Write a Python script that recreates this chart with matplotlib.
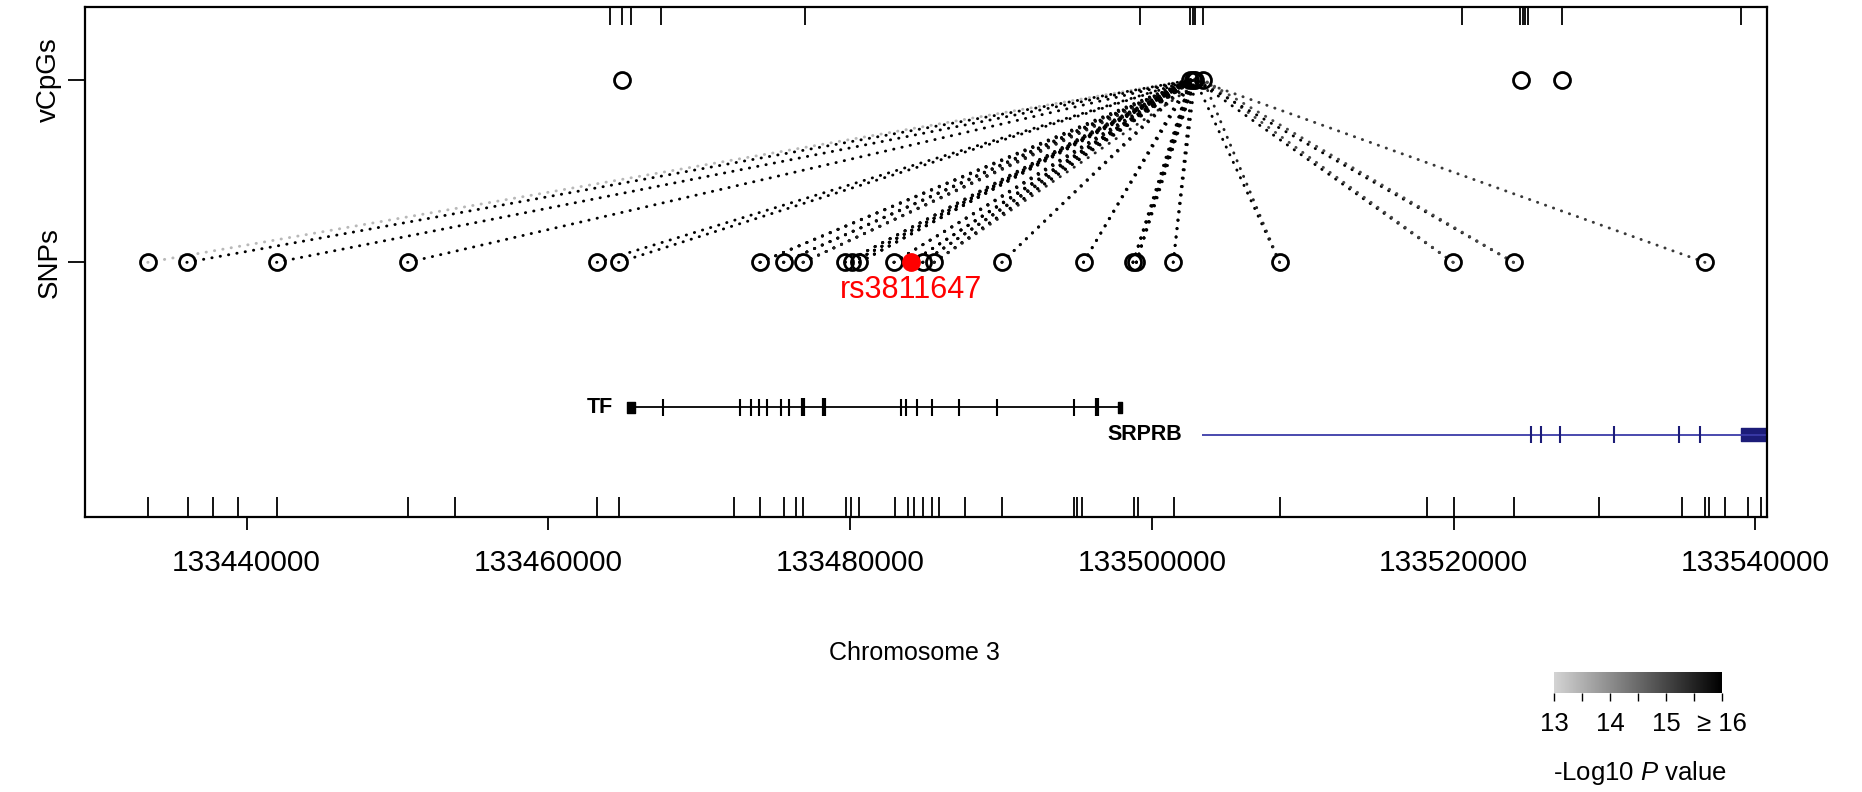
import numpy as np
import matplotlib
matplotlib.use("Agg")
import matplotlib.pyplot as plt
from matplotlib.colors import LinearSegmentedColormap

plt.rcParams['font.family'] = ['Liberation Sans', 'DejaVu Sans']
plt.rcParams['mathtext.fontset'] = 'custom'
plt.rcParams['mathtext.rm'] = 'Liberation Sans'
plt.rcParams['mathtext.it'] = 'Liberation Sans:italic'

# SNP positions (chr3), lead SNP rs3811647 is index 13
snp_pos = [133433447, 133436038, 133441981, 133450668, 133463241, 133464651,
           133474023, 133475585, 133476881, 133479662, 133480119, 133480615,
           133482901, 133484044, 133484806, 133485568, 133490056, 133495466,
           133498743, 133498971, 133501410, 133508458, 133519965, 133523965,
           133536652]
lead_snp = 13
lead_name = "rs3811647"

# vCpG positions
cpg_pos = [133464879, 133502553, 133502705, 133502858, 133503391, 133524460, 133527164]

# SNP - CpG associations and -log10 P
link_snp = [0, 1, 2, 3, 4, 5,
            6, 6, 6, 7, 7, 7, 8, 8, 8,
            9, 9, 9, 10, 10, 10, 11, 11, 11, 12, 12, 12,
            13, 13, 13, 14, 14, 14, 15, 15, 15,
            16, 16, 17, 17, 18, 18, 18, 19, 19, 19,
            20, 20, 21, 21, 22, 22, 23, 23, 24]
link_cpg = [2, 2, 2, 2, 2, 2,
            1, 2, 3, 1, 2, 3, 1, 2, 3,
            1, 2, 3, 1, 2, 3, 1, 2, 3, 1, 2, 3,
            1, 2, 3, 1, 2, 3, 1, 2, 4,
            1, 2, 1, 2, 1, 2, 3, 1, 2, 3,
            2, 3, 3, 4, 3, 4, 3, 4, 3]
link_logp = [13.4, 16.5, 16.5, 16.5, 16.5, 16.5,
             16.5, 16.5, 15.8, 16.5, 16.5, 15.8, 16.5, 16.5, 15.5,
             16.5, 16.5, 15.8, 16.5, 16.5, 16.0, 16.5, 16.5, 16.0, 16.5, 16.5, 15.8,
             16.5, 16.5, 16.0, 16.5, 16.5, 15.8, 16.5, 16.5, 15.5,
             16.5, 15.8, 16.5, 16.0, 16.5, 16.5, 16.0, 16.5, 16.5, 16.0,
             16.5, 16.0, 16.5, 15.5, 16.0, 15.0, 16.0, 15.0, 15.2]

# rug ticks: all SNPs (bottom) and all CpGs (top)
snp_rug = [133433447, 133436114, 133437790, 133439429, 133442019, 133450706,
           133453792, 133463241, 133464689, 133472271, 133474023, 133475585,
           133476386, 133476881, 133479738, 133480081, 133480615, 133482977,
           133483815, 133484234, 133484844, 133485453, 133485910, 133487625,
           133490056, 133494818, 133495009, 133495390, 133498819, 133499047,
           133501448, 133508496, 133518212, 133520003, 133523965, 133529604,
           133535128, 133536652, 133536919, 133537986, 133539510, 133540348]
cpg_rug = [133464079, 133464879, 133465451, 133467432, 133476995, 133499200,
           133502553, 133502705, 133502858, 133503391, 133520536, 133524380,
           133524560, 133524740, 133524920, 133527164, 133539013]

# genes
tf_start, tf_end = 133465232, 133497991
tf_exons = [133467620, 133472725, 133473455, 133473985, 133474516, 133475444,
            133475975, 133483336, 133483733, 133484397, 133485391, 133487182,
            133489702, 133494808]
tf_thick = [133476903, 133478296, 133496333]
srprb_start, srprb_end = 133503315, 133540843
srprb_exons = [133525146, 133525794, 133527013, 133530632, 133534938, 133536347]
srprb_block = 133539014

xticks = [133440000, 133460000, 133480000, 133500000, 133520000, 133540000]
cbar_ticks = [13, 13.5, 14, 14.5, 15, 15.5, 16]
cbar_labels = ["13", "", "14", "", "15", "", "\u2265 16"]

cmap = LinearSegmentedColormap.from_list("pg", ["#d4d4d4", "#000000"])

fig = plt.figure(figsize=(18.62, 7.92), dpi=100)
ax = fig.add_axes([0.0454, 0.3477, 0.9036, 0.6435])

y_snp, y_cpg = 0, 1
# association lines
for s, c, lp in zip(link_snp, link_cpg, link_logp):
    col = cmap(np.clip((lp - 13) / 3.0, 0, 1))
    ax.plot([snp_pos[s], cpg_pos[c]], [y_snp, y_cpg], color=col, lw=2.1,
            linestyle=(0, (0.1, 2.8)), dash_capstyle='round', zorder=2)

other = [p for i, p in enumerate(snp_pos) if i != lead_snp]
ax.plot(other, [y_snp] * len(other), 'o', ms=11.5, mfc='none', mec='black', mew=2.0, zorder=3)
ax.plot([snp_pos[lead_snp]], [y_snp], 'o', ms=12.5, color='red', zorder=4)
ax.plot(cpg_pos, [y_cpg] * len(cpg_pos), 'o', ms=11.5, mfc='none', mec='black', mew=2.0, zorder=3)
ax.text(snp_pos[lead_snp], -0.15, lead_name, color='red', fontsize=22, ha='center', va='center')

# rugs
y0, y1 = -1.391, 1.397
ax.vlines(snp_rug, y0, y0 + 0.11, color='black', lw=1.3)
ax.vlines(cpg_rug, y1 - 0.1, y1, color='black', lw=1.3)

# gene track
y_tf, y_sr = -0.793, -0.942
ax.hlines(y_tf, tf_start, tf_end, color='black', lw=1.3)
ax.vlines(tf_exons, y_tf - 0.045, y_tf + 0.045, color='black', lw=1.5)
ax.vlines(tf_thick, y_tf - 0.05, y_tf + 0.05, color='black', lw=3)
ax.broken_barh([(tf_start, 500), (tf_end - 250, 250)], (y_tf - 0.03, 0.06), color='black')
ax.annotate("TF", xy=(tf_start, y_tf), xytext=(-10, 0), textcoords='offset points',
            ha='right', va='center', fontsize=15.5, fontweight='bold')
navy = '#1c1c78'
ax.hlines(y_sr, srprb_start, srprb_end, color='#3b3ba8', lw=1.3)
ax.vlines(srprb_exons, y_sr - 0.045, y_sr + 0.045, color=navy, lw=1.5)
ax.broken_barh([(srprb_block, srprb_end - srprb_block)], (y_sr - 0.035, 0.07), color=navy)
ax.annotate("SRPRB", xy=(srprb_start, y_sr), xytext=(-14, 0), textcoords='offset points',
            ha='right', va='center', fontsize=15.5, fontweight='bold')

ax.set_xlim(133429256, 133540767)
ax.set_ylim(y0, y1)
ax.set_xticks(xticks)
ax.set_xticklabels([str(t) for t in xticks], fontsize=21.5)
ax.set_yticks([y_snp, y_cpg])
ax.set_yticklabels(["SNPs", "vCpGs"], rotation=90, va='center', fontsize=20)
ax.tick_params(axis='x', length=9, width=1.3, pad=14)
ax.tick_params(axis='y', length=12, width=1.3, pad=4)
for sp in ax.spines.values():
    sp.set_linewidth(1.6)

fig.text(914 / 1862, 1 - 653 / 792, "Chromosome 3", fontsize=18, ha='center', va='center')

# color key
cax = fig.add_axes([1554 / 1862, 1 - 693 / 792, 168 / 1862, 21 / 792])
cax.imshow(np.linspace(0, 1, 256)[None, :], aspect='auto', cmap=cmap, extent=[13, 16, 0, 1])
cax.set_xlim(13, 16)
cax.set_yticks([])
cax.set_xticks(cbar_ticks)
cax.set_xticklabels(cbar_labels, fontsize=18.5)
cax.tick_params(axis='x', length=6, width=1, pad=8)
for sp in cax.spines.values():
    sp.set_visible(False)
fig.text(1553 / 1862, 1 - 773 / 792, "-Log10 $\\mathit{P}$ value", fontsize=18.5, ha='left', va='center')

fig.savefig("out.png", dpi=100)
